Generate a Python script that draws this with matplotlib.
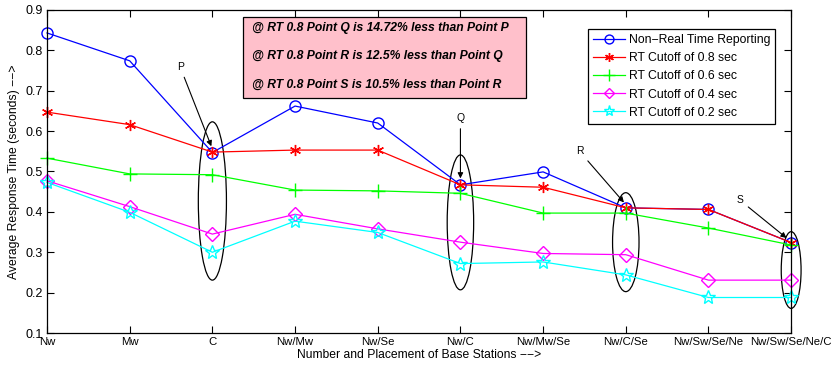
import matplotlib
matplotlib.use("Agg")
import matplotlib.pyplot as plt
from matplotlib.patches import Ellipse

stations = ["Nw", "Mw", "C", "Nw/Mw", "Nw/Se", "Nw/C", "Nw/Mw/Se", "Nw/C/Se",
            "Nw/Sw/Se/Ne", "Nw/Sw/Se/Ne/C"]
non_rt = [0.843, 0.774, 0.547, 0.662, 0.620, 0.467, 0.499, 0.410, 0.406, 0.324]
rt_08 = [0.647, 0.616, 0.548, 0.553, 0.553, 0.467, 0.461, 0.410, 0.406, 0.324]
rt_06 = [0.533, 0.494, 0.492, 0.454, 0.452, 0.446, 0.397, 0.397, 0.360, 0.318]
rt_04 = [0.477, 0.413, 0.345, 0.394, 0.358, 0.325, 0.297, 0.294, 0.231, 0.231]
rt_02 = [0.473, 0.399, 0.300, 0.377, 0.349, 0.272, 0.276, 0.244, 0.188, 0.188]

box_lines = ["@ RT 0.8 Point Q is 14.72% less than Point P",
             "@ RT 0.8 Point R is 12.5% less than Point Q",
             "@ RT 0.8 Point S is 10.5% less than Point R"]

plt.rcParams.update({"font.family": "Liberation Sans", "font.size": 8.5})
fig = plt.figure(figsize=(8.38, 3.68), dpi=100)
ax = fig.add_axes([0.0561, 0.095, 0.888, 0.878])

x = list(range(1, len(stations) + 1))
ms = 8
asterisk = (6, 2, 0)
kw = dict(lw=0.9, clip_on=False)
ax.plot(x, non_rt, "-o", color="b", mfc="none", ms=ms, label="Non\u2212Real Time Reporting", **kw)
ax.plot(x, rt_08, "-", marker=asterisk, color="r", ms=ms, label="RT Cutoff of 0.8 sec", **kw)
ax.plot(x, rt_06, "-+", color="#00ff00", ms=ms + 2, label="RT Cutoff of 0.6 sec", **kw)
ax.plot(x, rt_04, "-D", color="#ff00ff", mfc="none", ms=ms - 1, label="RT Cutoff of 0.4 sec", **kw)
ax.plot(x, rt_02, "-*", color="#00ffff", mfc="none", ms=ms + 2, label="RT Cutoff of 0.2 sec", **kw)

# ellipses around points P, Q, R, S
for cx, cy, w, h in [(3, 0.427, 0.34, 0.392), (6, 0.374, 0.32, 0.334),
                     (8, 0.325, 0.32, 0.245), (10, 0.256, 0.24, 0.19)]:
    ax.add_patch(Ellipse((cx, cy), w, h, fill=False, ec="k", lw=0.9, clip_on=False))

arrow = dict(arrowstyle="-|>", color="k", lw=0.8, mutation_scale=8)
for lab, tx, ty, px, py in [("P", 2.61, 0.759, 3.0, 0.556), ("Q", 6.0, 0.632, 6.0, 0.476),
                           ("R", 7.44, 0.550, 8.0, 0.418), ("S", 9.38, 0.429, 9.97, 0.331)]:
    ax.annotate(lab, xy=(px, py), xytext=(tx, ty), ha="center", va="center",
                fontsize=7.5, arrowprops=arrow, annotation_clip=False)

fig.patches.append(plt.Rectangle((243 / 838, 1 - 98 / 368), 283 / 838, 81 / 368,
                                 transform=fig.transFigure, fc="#ffc0cb", ec="k", lw=0.9))
for i, t in enumerate(box_lines):
    fig.text(252 / 838, 1 - (28 + 28.5 * i) / 368, t, fontsize=8.7, fontweight="bold",
             fontstyle="italic", va="center")

ax.set_xlim(1, 10)
ax.set_ylim(0.1, 0.9)
ax.set_xticks(x)
ax.set_xticklabels(stations, fontsize=8.2)
ax.set_yticks([0.1, 0.2, 0.3, 0.4, 0.5, 0.6, 0.7, 0.8, 0.9])
ax.tick_params(direction="in", top=True, right=True, length=5, labelsize=9, pad=3)
ax.tick_params(axis="x", labelsize=8.2)
ax.set_xlabel("Number and Placement of Base Stations \u2212\u2212>", fontsize=8.7, labelpad=1)
ax.set_ylabel("Average Response Time (seconds) \u2212\u2212>", fontsize=8.7, labelpad=4)
for s in ax.spines.values():
    s.set_linewidth(0.9)

leg = ax.legend(loc="upper right", bbox_to_anchor=(0.9865, 0.959), fancybox=False, edgecolor="k",
                framealpha=1, fontsize=8.8, handlelength=2.6, borderpad=0.4, labelspacing=0.5,
                handletextpad=0.3, markerscale=0.8)
leg.get_frame().set_linewidth(0.9)

fig.savefig("out.png", dpi=100)
